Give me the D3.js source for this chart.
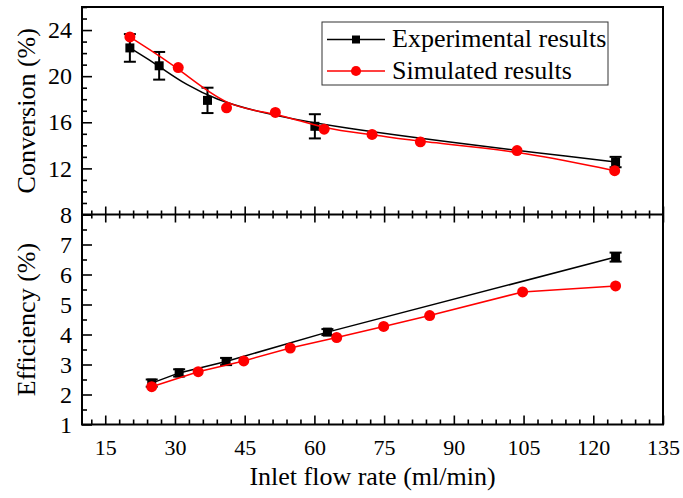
<!DOCTYPE html>
<html>

<head>
    <meta charset="UTF-8">
    <style>
        body { margin: 0; background: #fff; }
        svg { display: block; font-family: "Liberation Serif", "Times New Roman", serif; }
        .axis path { display: none; }
        .axis line { stroke: #000; stroke-width: 1.6; }
        .axis text { fill: #000; font-family: "Liberation Serif", serif; }
        .xaxis text { font-size: 22px; }
        .yaxis text { font-size: 24px; }
    </style>
</head>

<body>
    <svg></svg>
    <script src="https://d3js.org/d3.v7.min.js"></script>

    <script>

        // conversion panel
        let flowExpTop = [20.3, 26.6, 37.0, 60.1, 124.8];
        let convExp = [22.45, 20.9, 17.9, 15.65, 12.55];
        let convErr = [1.2, 1.2, 1.1, 1.05, 0.45];
        let flowSimTop = [20.3, 30.7, 41.1, 51.6, 62.1, 72.4, 82.8, 103.6, 124.6];
        let convSim = [23.4, 20.75, 17.25, 16.85, 15.4, 14.95, 14.3, 13.55, 11.8];

        // efficiency panel
        let flowExpBot = [25.0, 30.9, 41.0, 62.8, 124.8];
        let effExp = [2.38, 2.72, 3.1, 4.08, 6.58];
        let effErr = [0.12, 0.12, 0.12, 0.1, 0.15];
        let flowSimBot = [25.0, 35.0, 44.8, 54.8, 64.8, 74.9, 84.8, 104.8, 124.8];
        let effSim = [2.26, 2.76, 3.12, 3.55, 3.9, 4.27, 4.63, 5.42, 5.62];

        let xTicks = [15, 30, 45, 60, 75, 90, 105, 120, 135];
        let convTicks = [8, 12, 16, 20, 24];
        let effTicks = [1, 2, 3, 4, 5, 6, 7, 8];
        let seriesNames = ["Experimental results", "Simulated results"];

        let width = 683, height = 498;
        let pLeft = 82, pRight = 663, pTop = 7, pMid = 214.5, pBottom = 424.5;

        let svg = d3.select("svg")
            .attr("width", width)
            .attr("height", height);

        let x = d3.scaleLinear().domain([10, 135]).range([pLeft, pRight]);
        let yConv = d3.scaleLinear().domain([8, 26]).range([pMid, pTop]);
        let yEff = d3.scaleLinear().domain([1, 8]).range([pBottom, pMid]);

        let xMinor = d3.range(12, 135, 3).filter(v => v % 15 != 0);

        // x axis at the bottom (ticks point inward)
        svg.append("g").attr("class", "axis xaxis")
            .attr("transform", "translate(0," + pBottom + ")")
            .call(d3.axisBottom(x).tickValues(xTicks).tickSize(-9).tickPadding(15));
        svg.append("g").attr("class", "axis")
            .attr("transform", "translate(0," + pBottom + ")")
            .call(d3.axisBottom(x).tickValues(xMinor).tickSize(-5).tickFormat(""));

        // shared divider: ticks on both sides
        svg.append("g").attr("class", "axis")
            .attr("transform", "translate(0," + pMid + ")")
            .call(d3.axisBottom(x).tickValues(xTicks).tickSize(-8).tickFormat(""));
        svg.append("g").attr("class", "axis")
            .attr("transform", "translate(0," + pMid + ")")
            .call(d3.axisBottom(x).tickValues(xMinor).tickSize(-4).tickFormat(""));
        svg.append("g").attr("class", "axis")
            .attr("transform", "translate(0," + pMid + ")")
            .call(d3.axisTop(x).tickValues(xTicks).tickSize(-8).tickFormat(""));
        svg.append("g").attr("class", "axis")
            .attr("transform", "translate(0," + pMid + ")")
            .call(d3.axisTop(x).tickValues(xMinor).tickSize(-4).tickFormat(""));

        // y axes (the shared 8 is labelled once, by the upper panel)
        svg.append("g").attr("class", "axis yaxis")
            .attr("transform", "translate(" + pLeft + ",0)")
            .call(d3.axisLeft(yConv).tickValues(convTicks).tickSize(-10).tickPadding(10));
        svg.append("g").attr("class", "axis")
            .attr("transform", "translate(" + pLeft + ",0)")
            .call(d3.axisLeft(yConv).tickValues(d3.range(9, 27, 1).filter(v => v % 4 != 0)).tickSize(-5).tickFormat(""));
        svg.append("g").attr("class", "axis yaxis")
            .attr("transform", "translate(" + pLeft + ",0)")
            .call(d3.axisLeft(yEff).tickValues(effTicks).tickSize(-10).tickPadding(10)
                .tickFormat(v => v == 8 ? "" : d3.format("d")(v)));
        svg.append("g").attr("class", "axis")
            .attr("transform", "translate(" + pLeft + ",0)")
            .call(d3.axisLeft(yEff).tickValues(d3.range(1.5, 8, 1)).tickSize(-5).tickFormat(""));

        // frame
        svg.append("rect")
            .attr("x", pLeft).attr("y", pTop)
            .attr("width", pRight - pLeft).attr("height", pBottom - pTop)
            .attr("fill", "none").attr("stroke", "#000").attr("stroke-width", 2);
        svg.append("line")
            .attr("x1", pLeft).attr("x2", pRight).attr("y1", pMid).attr("y2", pMid)
            .attr("stroke", "#000").attr("stroke-width", 2);

        // axis titles
        svg.append("text")
            .attr("transform", "translate(35," + (pTop + pMid) / 2 + ") rotate(-90)")
            .attr("text-anchor", "middle").style("font-size", "26px")
            .text("Conversion (%)");
        svg.append("text")
            .attr("transform", "translate(35," + (pMid + pBottom) / 2 + ") rotate(-90)")
            .attr("text-anchor", "middle").style("font-size", "26px")
            .text("Efficiency (%)");
        svg.append("text")
            .attr("x", (pLeft + pRight) / 2).attr("y", 485)
            .attr("text-anchor", "middle").style("font-size", "26px")
            .text("Inlet flow rate (ml/min)");

        function drawSeries(xs, ys, yScale, curve, color, marker, errs) {
            let pts = xs.map((v, i) => ({ x: v, y: ys[i], e: errs ? errs[i] : 0 }));
            let line = d3.line().x(d => x(d.x)).y(d => yScale(d.y)).curve(curve);
            svg.append("path").datum(pts)
                .attr("d", line)
                .attr("fill", "none").attr("stroke", color).attr("stroke-width", 1.5);

            if (errs) {
                let eb = svg.append("g").selectAll("g").data(pts).enter().append("g")
                    .attr("stroke", "#000").attr("stroke-width", 2);
                eb.append("line")
                    .attr("x1", d => x(d.x)).attr("x2", d => x(d.x))
                    .attr("y1", d => yScale(d.y - d.e)).attr("y2", d => yScale(d.y + d.e));
                eb.append("line")
                    .attr("x1", d => x(d.x) - 6).attr("x2", d => x(d.x) + 6)
                    .attr("y1", d => yScale(d.y - d.e)).attr("y2", d => yScale(d.y - d.e));
                eb.append("line")
                    .attr("x1", d => x(d.x) - 6).attr("x2", d => x(d.x) + 6)
                    .attr("y1", d => yScale(d.y + d.e)).attr("y2", d => yScale(d.y + d.e));
            }

            let sym = d3.symbol().type(marker == "square" ? d3.symbolSquare : d3.symbolCircle)
                .size(marker == "square" ? 81 : 95);
            svg.append("g").selectAll("path").data(pts).enter().append("path")
                .attr("d", sym)
                .attr("transform", d => "translate(" + x(d.x) + "," + yScale(d.y) + ")")
                .attr("fill", color);
        }

        drawSeries(flowExpTop, convExp, yConv, d3.curveBasis, "#000", "square", convErr);
        drawSeries(flowSimTop, convSim, yConv, d3.curveBasis, "#ff0000", "circle");
        drawSeries(flowExpBot, effExp, yEff, d3.curveLinear, "#000", "square", effErr);
        drawSeries(flowSimBot, effSim, yEff, d3.curveLinear, "#ff0000", "circle");

        // legend
        let legend = svg.append("g").attr("transform", "translate(322,22)");
        legend.append("rect")
            .attr("width", 286).attr("height", 63)
            .attr("fill", "#fff").attr("stroke", "#333").attr("stroke-width", 1);
        let colors = ["#000", "#ff0000"];
        seriesNames.forEach((name, i) => {
            let cy = 17.5 + i * 31.5;
            legend.append("line")
                .attr("x1", 5).attr("x2", 63).attr("y1", cy).attr("y2", cy)
                .attr("stroke", colors[i]).attr("stroke-width", 1.5);
            legend.append("path")
                .attr("d", d3.symbol().type(i == 0 ? d3.symbolSquare : d3.symbolCircle).size(i == 0 ? 64 : 80))
                .attr("transform", "translate(34," + cy + ")")
                .attr("fill", colors[i]);
            legend.append("text")
                .attr("x", 70).attr("y", cy + 7.5)
                .style("font-size", "26px")
                .text(name);
        });
    </script>

</body>

</html>
